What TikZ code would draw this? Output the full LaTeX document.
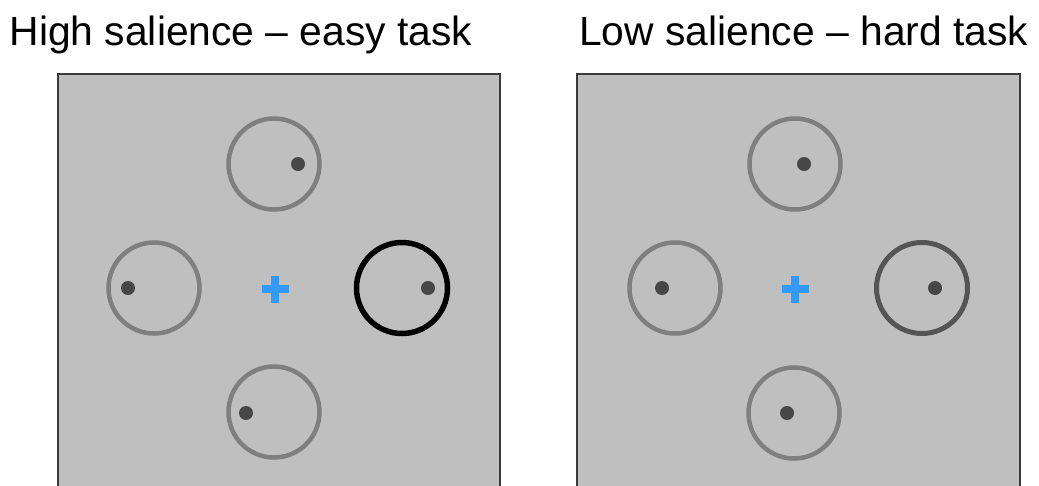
\documentclass[tikz,border=0pt]{standalone}
\usepackage{fontspec}
\setmainfont{Liberation Sans}
\definecolor{bg}{HTML}{BFBFBF}
\definecolor{frame}{HTML}{3A3A3A}
\definecolor{ringgray}{HTML}{7F7F7F}
\definecolor{ringdark}{HTML}{555555}
\definecolor{dotgray}{HTML}{474747}
\definecolor{fixblue}{HTML}{3399FF}
\tikzset{
  panel/.style={fill=bg, draw=frame, line width=2pt},
  ring/.style={circle, draw=ringgray, line width=4.5pt, minimum size=91pt, inner sep=0pt},
  ringblack/.style={ring, draw=black, line width=5.5pt},
  ringdk/.style={ring, draw=ringdark, line width=5pt},
  dot/.style={circle, fill=dotgray, minimum size=14pt, inner sep=0pt},
  title/.style={anchor=base west, inner sep=0pt, font=\fontsize{40.8}{46}\selectfont},
}
\newcommand{\fixcross}[1]{%
  \fill[fixblue] ($(#1)+(-13.5pt,-4pt)$) rectangle ($(#1)+(13.5pt,4pt)$);
  \fill[fixblue] ($(#1)+(-4pt,-13.5pt)$) rectangle ($(#1)+(4pt,13.5pt)$);}
\usetikzlibrary{calc}
\begin{document}
\begin{tikzpicture}[x=1pt,y=-1pt]
\useasboundingbox (0,0) rectangle (1039,485);
\clip (0,0) rectangle (1039,485);
% titles
\node[title] (t1) at (9.5,45) {High salience – easy task};
\node[title] (t2) at (579,45) {Low salience – hard task};
% panels
\draw[panel] (57.5,74) rectangle (500,495);
\draw[panel] (577,74) rectangle (1020,495);
% left panel
\coordinate (c1) at (275,289);
\fixcross{c1}
\node[ring] (a1) at (274,164) {};
\node[ring] (a2) at (154,288) {};
\node[ringblack] (a3) at (402,288) {};
\node[ring] (a4) at (274,412) {};
\node[dot] (d1) at (298,164) {};
\node[dot] (d2) at (128,288) {};
\node[dot] (d3) at (428,288) {};
\node[dot] (d4) at (246,413) {};
% right panel
\coordinate (c2) at (795,289);
\fixcross{c2}
\node[ring] (b1) at (795,164) {};
\node[ring] (b2) at (675,288) {};
\node[ringdk] (b3) at (922,288) {};
\node[ring] (b4) at (794,413) {};
\node[dot] (e1) at (804,164) {};
\node[dot] (e2) at (662,288) {};
\node[dot] (e3) at (935,288) {};
\node[dot] (e4) at (787,413) {};
\end{tikzpicture}
\end{document}
